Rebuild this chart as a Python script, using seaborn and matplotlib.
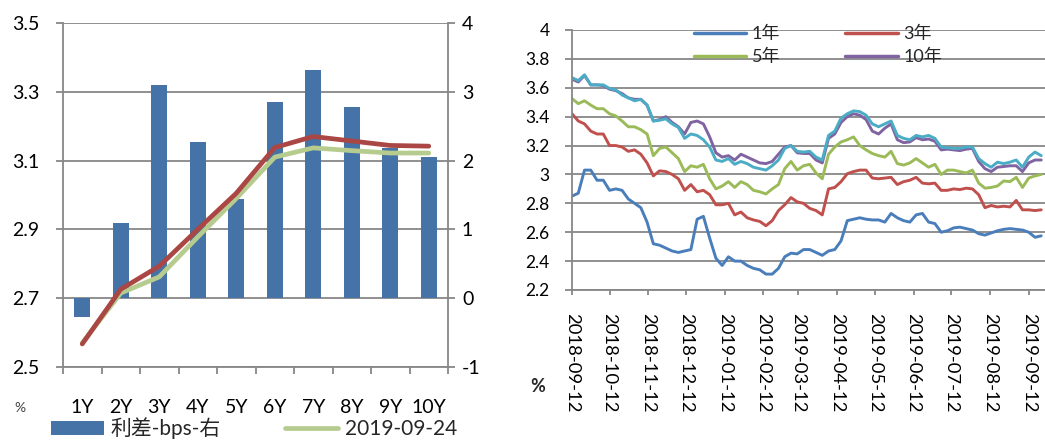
import numpy as np
import pandas as pd
import matplotlib
matplotlib.use("Agg")
import matplotlib.pyplot as plt
import matplotlib.dates as mdates
from matplotlib.lines import Line2D
from matplotlib.patches import Patch
from matplotlib.ticker import FixedLocator, FuncFormatter
import seaborn as sns

# ---- left panel: curve on two dates and the spread between them ----
tenors = ["1Y", "2Y", "3Y", "4Y", "5Y", "6Y", "7Y", "8Y", "9Y", "10Y"]
spread_bps = [-0.27, 1.10, 3.10, 2.27, 1.44, 2.85, 3.31, 2.78, 2.19, 2.05]
curve_earlier = [2.567, 2.726, 2.793, 2.900, 3.005, 3.138, 3.170, 3.157, 3.144, 3.142]
curve_0924 = [2.570, 2.715, 2.762, 2.878, 2.990, 3.110, 3.137, 3.129, 3.122, 3.122]
left_ticks = [2.5, 2.7, 2.9, 3.1, 3.3, 3.5]
right_ticks = [-1, 0, 1, 2, 3, 4]

# ---- right panel: yields by tenor, sampled every five days ----
dates = pd.date_range("2018-09-12", periods=76, freq="5D")
y1 = [2.85, 2.87, 3.03, 3.03, 2.96, 2.96, 2.89, 2.90, 2.89, 2.83,
      2.80, 2.77, 2.67, 2.52, 2.51, 2.49, 2.47, 2.46, 2.47, 2.48,
      2.69, 2.71, 2.56, 2.42, 2.37, 2.43, 2.40, 2.40, 2.37, 2.35,
      2.34, 2.31, 2.31, 2.35, 2.43, 2.455, 2.45, 2.48, 2.48, 2.46,
      2.44, 2.47, 2.48, 2.54, 2.68, 2.69, 2.70, 2.69, 2.685, 2.685,
      2.67, 2.73, 2.70, 2.68, 2.67, 2.72, 2.73, 2.67, 2.66, 2.60,
      2.61, 2.63, 2.635, 2.625, 2.615, 2.59, 2.58, 2.595, 2.61, 2.62,
      2.625, 2.62, 2.615, 2.60, 2.565, 2.575]
y3 = [3.42, 3.37, 3.35, 3.30, 3.28, 3.28, 3.20, 3.20, 3.19, 3.16,
      3.17, 3.14, 3.08, 2.99, 3.025, 3.02, 3.00, 2.97, 2.89, 2.93,
      2.88, 2.89, 2.86, 2.79, 2.79, 2.80, 2.72, 2.74, 2.70, 2.685,
      2.675, 2.645, 2.68, 2.75, 2.79, 2.84, 2.81, 2.80, 2.765, 2.75,
      2.72, 2.90, 2.91, 2.95, 3.005, 3.02, 3.03, 3.03, 2.975, 2.97,
      2.975, 2.98, 2.93, 2.95, 2.96, 2.98, 2.94, 2.935, 2.94, 2.89,
      2.89, 2.90, 2.895, 2.905, 2.90, 2.86, 2.77, 2.785, 2.775, 2.78,
      2.775, 2.82, 2.755, 2.755, 2.75, 2.755]
y5 = [3.525, 3.49, 3.51, 3.48, 3.455, 3.455, 3.42, 3.405, 3.37, 3.33,
      3.33, 3.31, 3.28, 3.13, 3.18, 3.19, 3.15, 3.11, 3.02, 3.06,
      3.05, 3.07, 2.97, 2.90, 2.92, 2.95, 2.91, 2.95, 2.93, 2.89,
      2.88, 2.865, 2.90, 2.93, 3.04, 3.09, 3.03, 3.06, 3.07, 3.01,
      2.97, 3.14, 3.19, 3.225, 3.24, 3.26, 3.20, 3.17, 3.145, 3.13,
      3.12, 3.16, 3.075, 3.065, 3.08, 3.11, 3.08, 3.05, 3.07, 3.00,
      3.03, 3.03, 3.02, 3.01, 3.03, 2.94, 2.905, 2.91, 2.92, 2.955,
      2.95, 2.98, 2.91, 2.975, 2.99, 3.00]
y7 = [3.67, 3.65, 3.69, 3.62, 3.62, 3.62, 3.595, 3.585, 3.55, 3.53,
      3.51, 3.52, 3.48, 3.37, 3.375, 3.385, 3.35, 3.325, 3.25, 3.28,
      3.27, 3.24, 3.19, 3.10, 3.09, 3.11, 3.07, 3.09, 3.075, 3.05,
      3.04, 3.03, 3.06, 3.10, 3.18, 3.20, 3.16, 3.155, 3.16, 3.12,
      3.10, 3.27, 3.30, 3.39, 3.42, 3.44, 3.435, 3.41, 3.35, 3.33,
      3.35, 3.37, 3.27, 3.25, 3.24, 3.27, 3.26, 3.27, 3.25, 3.19,
      3.185, 3.18, 3.18, 3.19, 3.19, 3.11, 3.075, 3.05, 3.085, 3.075,
      3.085, 3.10, 3.05, 3.12, 3.155, 3.13]
y10 = [3.66, 3.64, 3.685, 3.62, 3.62, 3.615, 3.59, 3.58, 3.56, 3.53,
       3.52, 3.52, 3.48, 3.37, 3.38, 3.40, 3.36, 3.33, 3.28, 3.36,
       3.37, 3.35, 3.26, 3.15, 3.12, 3.13, 3.10, 3.14, 3.12, 3.10,
       3.08, 3.075, 3.09, 3.14, 3.19, 3.20, 3.15, 3.145, 3.145, 3.10,
       3.08, 3.25, 3.28, 3.36, 3.40, 3.42, 3.41, 3.38, 3.30, 3.28,
       3.32, 3.35, 3.24, 3.22, 3.225, 3.255, 3.24, 3.245, 3.23, 3.17,
       3.175, 3.17, 3.165, 3.175, 3.18, 3.09, 3.04, 3.02, 3.05, 3.055,
       3.06, 3.06, 3.02, 3.08, 3.10, 3.10]
right_yticks = [2.2, 2.4, 2.6, 2.8, 3.0, 3.2, 3.4, 3.6, 3.8, 4.0]

sns.set_theme(style="white")
plt.rcParams["font.family"] = ["Lato", "Noto Sans CJK SC", "DejaVu Sans"]
plt.rcParams["axes.unicode_minus"] = False

GRID = "#878787"
BAR = "#4572A7"
RED_L = "#AA4643"
GREEN_L = "#B6CC8F"
C1, C3, C5, C7, C10 = "#4A7EBB", "#C0504D", "#9BBB59", "#4BACC6", "#8064A2"

W, H = 1045, 441
fig = plt.figure(figsize=(W / 100, H / 100), dpi=100)


def box(l, t, r, b):
    return [l / W, 1 - b / H, (r - l) / W, (b - t) / H]


# ================= left panel =================
axL = fig.add_axes(box(63, 23, 448, 367))
axB = axL.twinx()
axL.set_zorder(3)
axB.set_zorder(2)
axL.patch.set_visible(False)

sns.barplot(x=tenors, y=spread_bps, ax=axB, color=BAR, width=0.41,
            saturation=1, linewidth=0)
axB.set_ylim(-1, 4)
axB.yaxis.set_major_locator(FixedLocator(right_ticks))
axB.yaxis.grid(True, color=GRID, lw=1.3)
axB.set_axisbelow(True)

sns.lineplot(x=tenors, y=curve_0924, ax=axL, color=GREEN_L, lw=3.4,
             sort=False, solid_capstyle="round")
sns.lineplot(x=tenors, y=curve_earlier, ax=axL, color=RED_L, lw=3.4,
             sort=False, solid_capstyle="round")
axL.set_ylim(2.5, 3.5)
axL.set_xlim(-0.5, 9.5)
axL.yaxis.set_major_locator(FixedLocator(left_ticks))
axL.yaxis.set_major_formatter(FuncFormatter(lambda v, p: f"{v:.1f}"))
axL.set_xticks(range(len(tenors)))
axL.set_xticklabels(tenors)
axL.xaxis.set_minor_locator(FixedLocator(np.arange(-0.5, 10, 1.0)))
axL.grid(False)
for a in (axL, axB):
    a.set_xlabel("")
    a.set_ylabel("")
    for s in a.spines.values():
        s.set_visible(False)
for side in ("left", "bottom"):
    axL.spines[side].set_visible(True)
    axL.spines[side].set_color(GRID)
    axL.spines[side].set_linewidth(1.3)
axB.spines["right"].set_visible(True)
axB.spines["right"].set_color(GRID)
axB.spines["right"].set_linewidth(1.3)

axL.tick_params(axis="y", which="major", left=True, length=5, width=1.3,
                color=GRID, pad=12, labelsize=14, labelcolor="black")
axL.tick_params(axis="x", which="major", bottom=True, length=0, pad=23,
                labelsize=14, labelcolor="black")
axL.tick_params(axis="x", which="minor", bottom=True, length=5, width=1.3,
                color=GRID)
axB.tick_params(axis="y", right=True, length=5, width=1.3, color=GRID,
                pad=5, labelsize=14, labelcolor="black")

fig.text(20 / W, 1 - 408 / H, "%", fontsize=10, color="#444444",
         ha="center", va="center")
fig.legend(handles=[Patch(facecolor=BAR, edgecolor="none"),
                    Line2D([], [], color=GREEN_L, lw=3.4)],
           labels=["利差-bps-右", "2019-09-24"],
           loc="center left", bbox_to_anchor=(51 / W, 1 - 428 / H),
           ncol=2, frameon=False, fontsize=15, handlelength=2.55,
           handleheight=0.65, handletextpad=0.3, columnspacing=3.1,
           borderaxespad=0, borderpad=0)

# ================= right panel =================
axR = fig.add_axes(box(572, 30, 1045, 290))
series = [("1年", y1, C1), ("3年", y3, C3), ("5年", y5, C5),
          ("10年", y10, C10), ("7年", y7, C7)]
for name, vals, col in series:
    sns.lineplot(x=dates, y=vals, ax=axR, color=col, lw=2.1)

axR.set_ylim(2.2, 4.0)
axR.set_xlim(pd.Timestamp("2018-09-12"), pd.Timestamp("2019-09-25"))
axR.yaxis.set_major_locator(FixedLocator(right_yticks))
axR.yaxis.set_major_formatter(FuncFormatter(lambda v, p: f"{v:g}"))
axR.xaxis.set_major_locator(mdates.MonthLocator(bymonthday=12))
axR.xaxis.set_major_formatter(mdates.DateFormatter("%Y-%m-%d"))
axR.yaxis.grid(True, color=GRID, lw=1.3)
axR.xaxis.grid(False)
axR.set_axisbelow(True)
axR.set_xlabel("")
axR.set_ylabel("")
for s in axR.spines.values():
    s.set_visible(False)
for side in ("left", "bottom"):
    axR.spines[side].set_visible(True)
    axR.spines[side].set_color(GRID)
    axR.spines[side].set_linewidth(1.3)
axR.tick_params(axis="y", left=True, length=5, width=1.3, color=GRID,
                pad=11, labelsize=12.5, labelcolor="black")
axR.tick_params(axis="x", bottom=True, length=3.5, width=1.3, color=GRID,
                pad=13, labelsize=13.3, labelcolor="black")
for lab in axR.get_xticklabels():
    lab.set_rotation(-90)
    lab.set_ha("center")
    lab.set_va("top")

leg_items = {name: Line2D([], [], color=col, lw=2.5)
             for name, _, col in series}
order = ["1年", "5年", "3年", "10年"]
axR.legend(handles=[leg_items[n] for n in order], labels=order,
           loc="upper left", bbox_to_anchor=(694 / W, 1 - 26 / H),
           bbox_transform=fig.transFigure, ncol=2, frameon=False,
           fontsize=13, handlelength=2.9, handletextpad=0.3,
           columnspacing=3.6, labelspacing=0.35, borderaxespad=0,
           borderpad=0)

fig.text(538 / W, 1 - 387 / H, "%", fontsize=13, fontweight="bold",
         ha="center", va="center")

fig.savefig("out.png", dpi=100)
